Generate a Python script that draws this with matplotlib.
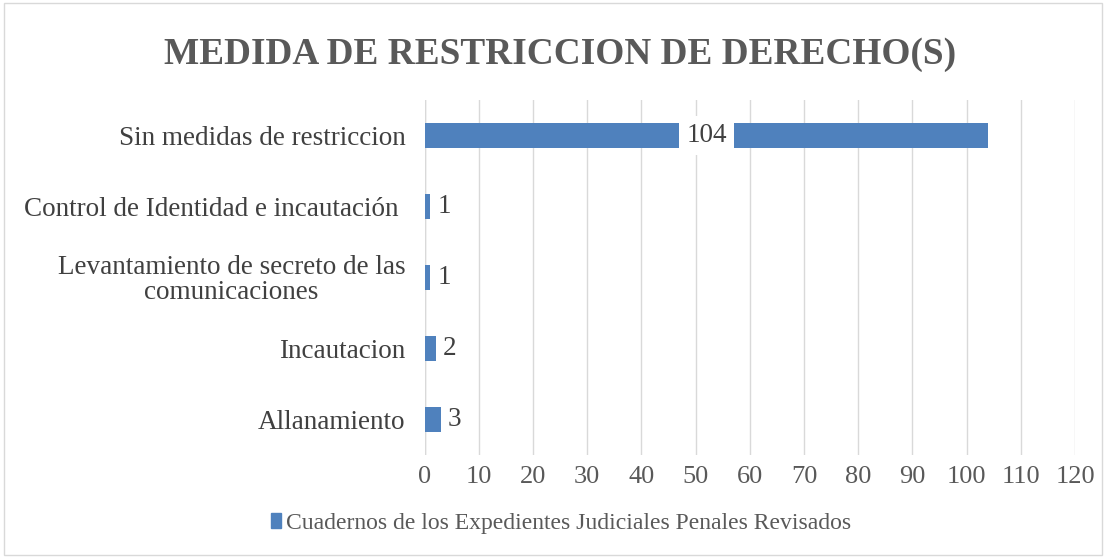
import matplotlib.pyplot as plt
from matplotlib.patches import Rectangle

plt.rcParams['font.family'] = ['Liberation Serif', 'DejaVu Serif']

categories = ['Allanamiento', 'Incautacion',
              'Levantamiento de secreto de las\ncomunicaciones',
              'Control de Identidad e incautación ',
              'Sin medidas de restriccion']
values = [3, 2, 1, 1, 104]
series_name = 'Cuadernos de los Expedientes Judiciales Penales Revisados'
xticks = list(range(0, 121, 10))

bar_color = '#4f81bd'
text_color = '#595959'
label_color = '#404040'

fig = plt.figure(figsize=(11.06, 5.58), dpi=100)
ax = fig.add_axes([0.384, 0.185, 0.588, 0.636])

ax.barh(range(len(categories)), values, height=0.35, color=bar_color, zorder=3)
ax.set_ylim(-0.5, len(categories) - 0.5)
ax.set_xlim(0, 120)
ax.set_xticks(xticks)
ax.set_yticks(range(len(categories)))
ax.set_yticklabels(categories, fontsize=19.5, color=label_color, linespacing=1.0,
                   multialignment='center')
ax.tick_params(axis='x', labelsize=19, colors=text_color, length=0, pad=8)
ax.tick_params(axis='y', length=0, pad=14)
ax.grid(axis='x', color='#d9d9d9', linewidth=1, zorder=0)
for s in ax.spines.values():
    s.set_visible(False)
ax.axvline(0, color='#d9d9d9', linewidth=1, zorder=1)

for i, v in enumerate(values):
    if v > 50:
        ax.text(v / 2, i, str(v), ha='center', va='center', fontsize=19.5,
                color=label_color, zorder=4,
                bbox=dict(facecolor='white', edgecolor='none', pad=5))
    else:
        ax.text(v + 1.3, i, str(v), ha='left', va='center', fontsize=19.5,
                color=label_color, zorder=4)

fig.text(0.506, 0.903, 'MEDIDA DE RESTRICCION DE DERECHO(S)', ha='center', va='center',
         fontsize=26.8, fontweight='bold', color=text_color)

leg = ax.legend([Rectangle((0, 0), 1, 1, color=bar_color)], [series_name],
                loc='center', bbox_to_anchor=(0.507, 0.062), bbox_transform=fig.transFigure,
                frameon=False, fontsize=17, handlelength=0.45, handleheight=0.6,
                handletextpad=0.2)
for t in leg.get_texts():
    t.set_color(text_color)

fig.patches.append(Rectangle((0.004, 0.006), 0.992, 0.988, transform=fig.transFigure,
                             fill=False, edgecolor='#d9d9d9', linewidth=1))

fig.savefig('out.png', dpi=100)
